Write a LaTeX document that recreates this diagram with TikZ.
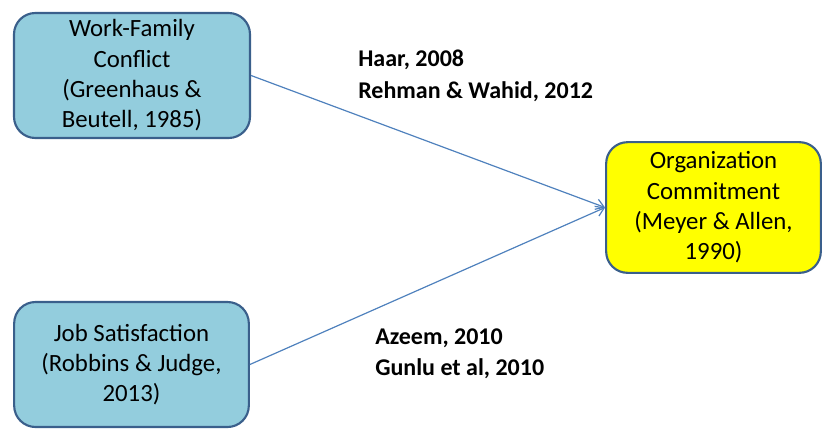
\documentclass[tikz,border=0pt]{standalone}
\usepackage{fontspec}
\setmainfont{Carlito}
\usepackage{xcolor}
\usetikzlibrary{arrows.meta}
\definecolor{BoxAqua}{HTML}{93CDDD}
\definecolor{BoxEdge}{HTML}{3A5F8B}
\definecolor{BoxYellow}{HTML}{FFFF00}
\definecolor{LinkBlue}{HTML}{4F81BD}
\begin{document}
\begin{tikzpicture}[x=0.75pt, y=-0.75pt,
    factor/.style={draw=BoxEdge, line width=1.6pt, rounded corners=16pt, align=center,
      inner sep=0pt, font=\fontsize{18.6}{22.7}\selectfont},
    source/.style={align=left, anchor=west, inner sep=0pt, font=\fontsize{18}{23.5}\selectfont\bfseries},
    link/.style={draw=LinkBlue, line width=0.9pt, -{Straight Barb[length=6pt,width=8pt]}}]
      \useasboundingbox (0,0) rectangle (822,429);
      % Three factors
      \node[factor, fill=BoxAqua, minimum width=177pt, minimum height=93.75pt] (wfc) at (132,75.5)
        {Work-Family\\Conflict\\(Greenhaus \&\\Beutell, 1985)};
      \node[factor, fill=BoxAqua, minimum width=176pt, minimum height=93.75pt] (js) at (131.5,364.5)
        {Job Satisfaction\\(Robbins \& Judge,\\2013)};
      \node[factor, fill=BoxYellow, minimum width=161pt, minimum height=98pt] (oc) at (713.5,207.5)
        {Organization\\Commitment\\(Meyer \& Allen,\\1990)};

      % Links
      \draw[link] (wfc.east) -- (oc.west);
      \draw[link] (js.east) -- (oc.west);

      % Studies
      \node[source] (top) at (358,76) {Haar, 2008\\Rehman \& Wahid, 2012};
      \node[source] (bottom) at (375,353.5) {Azeem, 2010\\Gunlu et al, 2010};
    \end{tikzpicture}
\end{document}
